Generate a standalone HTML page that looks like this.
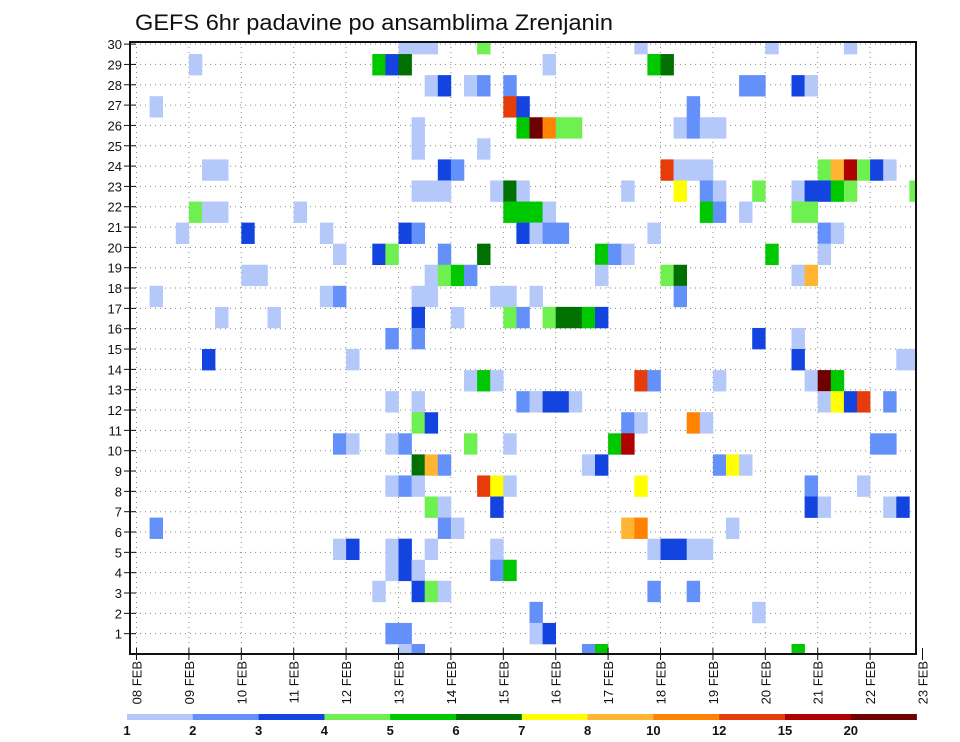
<!DOCTYPE html>
<html><head><meta charset="utf-8"><style>
html,body{margin:0;padding:0;background:#fff;width:960px;height:742px;overflow:hidden}
svg{display:block}
text{font-family:"Liberation Sans",sans-serif;fill:#111}
</style></head><body>
<svg id="chart" width="960" height="742" viewBox="0 0 960 742" xmlns="http://www.w3.org/2000/svg">
<text x="135" y="30" font-size="22" textLength="478" lengthAdjust="spacingAndGlyphs">GEFS 6hr padavine po ansamblima Zrenjanin</text>
<g id="grid"></g>
<g id="cells"></g>
<g id="axes"></g>
<g id="legend"></g>
</svg>
<script>
// 6-hour step index from 08 FEB 00Z
const steps = [20,21,22,26,38,48,54, 4,18,19,20,31,39,40, 22,23,25,26,28,46,47,50,51, 1,28,29,42, 21,29,30,31,32,33,41,42,43,44, 21,26, 5,6,23,24,40,41,42,43,52,53,54,55,56,57, 21,22,23,27,28,29,37,41,43,44,47,50,51,52,53,54,59, 4,5,6,12,28,29,30,31,43,44,46,50,51, 3,8,14,20,21,29,30,31,32,39,52,53, 15,18,19,23,26,35,36,37,48,52, 8,9,22,23,24,25,35,40,41,50,51, 1,14,15,21,22,27,28,30,41, 6,10,21,24,28,29,31,32,33,34,35, 19,21,47,50, 5,16,50,58,59, 25,26,27,38,39,44,51,52,53, 19,21,29,30,31,32,33,52,53,54,55,57, 21,22,37,38,42,43, 15,16,19,20,25,28,36,37,56,57, 21,22,23,34,35,44,45,46, 19,20,21,26,27,28,38,51,55, 22,23,27,51,52,57,58, 1,23,24,37,38,45, 15,16,19,20,22,27,39,40,41,42,43, 19,20,21,27,28, 18,21,22,23,39,42, 30,47, 19,20,30,31, 20,21,34,35,50];
// ensemble member row index
const members = [29,29,29,29,29,29,29, 28,28,28,28,28,28,28, 27,27,27,27,27,27,27,27,27, 26,26,26,26, 25,25,25,25,25,25,25,25,25,25, 24,24, 23,23,23,23,23,23,23,23,23,23,23,23,23,23, 22,22,22,22,22,22,22,22,22,22,22,22,22,22,22,22,22, 21,21,21,21,21,21,21,21,21,21,21,21,21, 20,20,20,20,20,20,20,20,20,20,20,20, 19,19,19,19,19,19,19,19,19,19, 18,18,18,18,18,18,18,18,18,18,18, 17,17,17,17,17,17,17,17,17, 16,16,16,16,16,16,16,16,16,16,16, 15,15,15,15, 14,14,14,14,14, 13,13,13,13,13,13,13,13,13, 12,12,12,12,12,12,12,12,12,12,12,12, 11,11,11,11,11,11, 10,10,10,10,10,10,10,10,10,10, 9,9,9,9,9,9,9,9, 8,8,8,8,8,8,8,8,8, 7,7,7,7,7,7,7, 6,6,6,6,6,6, 5,5,5,5,5,5,5,5,5,5,5, 4,4,4,4,4, 3,3,3,3,3,3, 2,2, 1,1,1,1, 0,0,0,0,0];
// precipitation (mm / 6h)
const values = [1.5,1.5,1.5,4.5,1.5,1.5,1.5, 1.5,5.5,3.5,6.5,1.5,5.5,6.5, 1.5,3.5,1.5,2.5,2.5,2.5,2.5,3.5,1.5, 1.5,13,3.5,2.5, 1.5,5.5,22,11,4.5,4.5,1.5,2.5,1.5,1.5, 1.5,1.5, 1.5,1.5,3.5,2.5,13,1.5,1.5,1.5,4.5,9,17,4.5,3.5,1.5, 1.5,1.5,1.5,1.5,6.5,1.5,1.5,7.5,2.5,1.5,4.5,1.5,3.5,3.5,5.5,4.5,4.5, 4.5,1.5,1.5,1.5,5.5,5.5,5.5,1.5,5.5,2.5,1.5,4.5,4.5, 1.5,3.5,1.5,3.5,2.5,3.5,1.5,2.5,2.5,1.5,2.5,1.5, 1.5,3.5,4.5,2.5,6.5,5.5,2.5,1.5,5.5,1.5, 1.5,1.5,1.5,4.5,5.5,2.5,1.5,4.5,6.5,1.5,9, 1.5,1.5,2.5,1.5,1.5,1.5,1.5,1.5,2.5, 1.5,1.5,3.5,1.5,4.5,2.5,4.5,6.5,6.5,5.5,3.5, 2.5,2.5,3.5,1.5, 3.5,1.5,3.5,1.5,1.5, 1.5,5.5,1.5,13,2.5,1.5,1.5,22,5.5, 1.5,1.5,2.5,1.5,3.5,3.5,1.5,1.5,7.5,3.5,13,2.5, 4.5,3.5,2.5,1.5,11,1.5, 2.5,1.5,1.5,2.5,4.5,1.5,5.5,17,2.5,2.5, 6.5,9,2.5,1.5,3.5,2.5,7.5,1.5, 1.5,2.5,1.5,13,7.5,1.5,7.5,2.5,1.5, 4.5,1.5,3.5,3.5,1.5,1.5,3.5, 2.5,2.5,1.5,9,11,1.5, 1.5,3.5,1.5,3.5,1.5,1.5,1.5,3.5,3.5,1.5,1.5, 1.5,3.5,1.5,2.5,5.5, 1.5,3.5,4.5,1.5,2.5,2.5, 2.5,1.5, 2.5,2.5,1.5,3.5, 1.5,2.5,2.5,5.5,5.5];
const levels = [1,2,3,4,5,6,7,8,10,12,15,20];
const levelColors = ["#b4c8fa","#6490fa","#1444e0","#6ef050","#00c800","#007000","#ffff00","#ffb432","#ff8200","#e63c0a","#b00000","#6e0000"];
const dayLabels = ["08 FEB","09 FEB","10 FEB","11 FEB","12 FEB","13 FEB","14 FEB","15 FEB","16 FEB","17 FEB","18 FEB","19 FEB","20 FEB","21 FEB","22 FEB","23 FEB"];
const yTicks = [1,2,3,4,5,6,7,8,9,10,11,12,13,14,15,16,17,18,19,20,21,22,23,24,25,26,27,28,29,30];

const NS="http://www.w3.org/2000/svg";
const L=130,R=916,T=42,B=654;
const xDay=d=>136.5+52.4*d;
const xStep=s=>xDay(s/4);
const stepW=52.4/4;
const yCellTop=m=>644-m*21.07;
const cellH=21.07;
const yLab=k=>654-k*20.33;
function mk(tag,attrs,parent){const e=document.createElementNS(NS,tag);for(const k in attrs)e.setAttribute(k,attrs[k]);parent.appendChild(e);return e;}
function colorFor(v){let c=null;for(let i=0;i<levels.length;i++){if(v>=levels[i])c=levelColors[i];}return c;}

const grid=document.getElementById('grid');
yTicks.forEach(k=>{const l=mk('line',{x1:L,x2:R,y1:yLab(k),y2:yLab(k),stroke:'#888','stroke-width':1,'stroke-dasharray':'1,4'},grid);

});
dayLabels.forEach((d,i)=>{const x=xDay(i);if(x>L&&x<R){const l=mk('line',{x1:x,x2:x,y1:T,y2:B,stroke:'#888','stroke-width':1,'stroke-dasharray':'1,4'},grid);

}});

const cells=document.getElementById('cells');
const defs=mk('defs',{},cells);
const cp=mk('clipPath',{id:'plotclip'},defs);
mk('rect',{x:L,y:T,width:R-L,height:B-T},cp);
const cg=mk('g',{'clip-path':'url(#plotclip)'},cells);
for(let n=0;n<values.length;n++){const c=colorFor(values[n]);if(!c)continue;
const r=mk('rect',{x:xStep(steps[n]).toFixed(2),y:yCellTop(members[n]).toFixed(2),width:(stepW+0.3).toFixed(2),height:(cellH+0.3).toFixed(2),fill:c},cg);

}

const axes=document.getElementById('axes');
mk('rect',{x:L,y:T,width:R-L,height:B-T,fill:'none',stroke:'#111','stroke-width':2},axes);
yTicks.forEach(k=>{const y=yLab(k);mk('line',{x1:124,x2:136,y1:y,y2:y,stroke:'#111','stroke-width':1},axes);
const t=mk('text',{x:122,y:y+5,'font-size':13,'text-anchor':'end'},axes);t.textContent=k;

});
dayLabels.forEach((d,i)=>{const x=xDay(i);mk('line',{x1:x,x2:x,y1:648,y2:660,stroke:'#111','stroke-width':1},axes);
const t=mk('text',{x:0,y:0,'font-size':13,'text-anchor':'end',transform:`translate(${x+5},661) rotate(-90)`},axes);t.textContent=d;

});

const lg=document.getElementById('legend');
const segW=65.8,lx0=127;
levels.forEach((lv,i)=>{const r=mk('rect',{x:lx0+i*segW,y:714,width:segW+0.3,height:6,fill:levelColors[i]},lg);


const t=mk('text',{x:lx0+i*segW,y:735,'font-size':13,'font-weight':'bold','text-anchor':'middle'},lg);t.textContent=lv;

});
</script>
</body></html>
